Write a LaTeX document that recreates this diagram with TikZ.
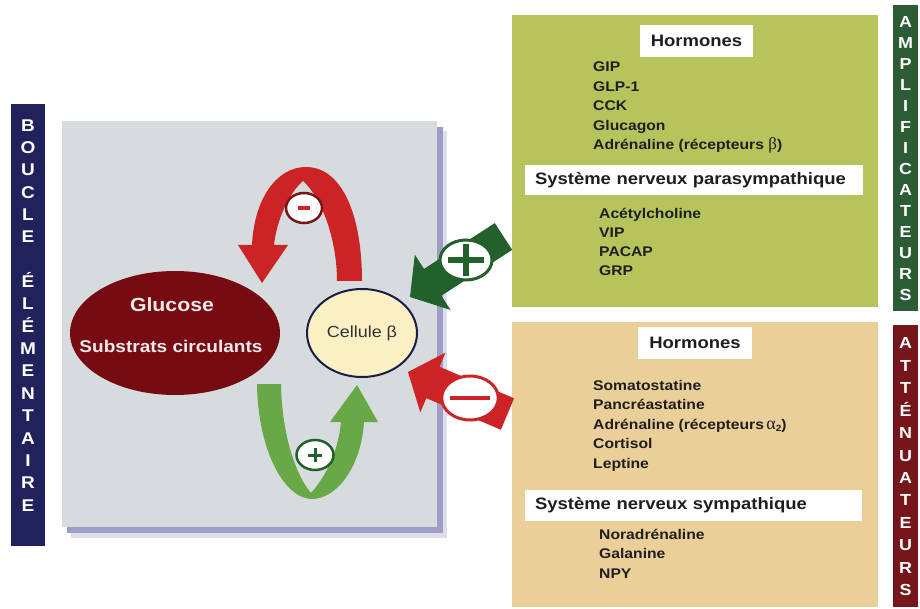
\documentclass[tikz,border=0pt]{standalone}
\usepackage{fontspec}
\setmainfont{Liberation Sans}[FakeStretch=1.12]
\newfontfamily\grk{Liberation Serif}
\usetikzlibrary{shapes.geometric}
\newcommand{\myfs}[1]{\fontsize{#1}{#1}\selectfont}
\newcommand{\grkb}{{\grk\mdseries\myfs{17}β}}
\newcommand{\grka}{{\grk\mdseries\myfs{18}α}\raisebox{-2.5pt}{\myfs{9}2}}
\definecolor{navy}{RGB}{33,33,92}
\definecolor{dgreen}{RGB}{44,92,52}
\definecolor{dred}{RGB}{118,22,26}
\definecolor{glucose}{RGB}{118,12,18}
\definecolor{greybox}{RGB}{214,219,222}
\definecolor{shadowc}{RGB}{140,140,188}
\definecolor{olive}{RGB}{183,196,92}
\definecolor{beige}{RGB}{234,208,152}
\definecolor{cellfill}{RGB}{250,240,196}
\definecolor{cellline}{RGB}{28,28,72}
\definecolor{redarrow}{RGB}{204,36,36}
\definecolor{lgreen}{RGB}{104,168,70}
\definecolor{garrow}{RGB}{34,96,44}
\definecolor{txt}{RGB}{30,30,30}
\begin{document}
\begin{tikzpicture}[x=1pt,y=-1pt,
  barletter/.style={text=white,font=\bfseries\myfs{16},inner sep=0pt,text height=11.5pt,text depth=0pt},
  bigletter/.style={barletter,font=\bfseries\myfs{17},text height=12.2pt},
  item/.style={anchor=base west,font=\bfseries\myfs{14},text=txt,inner sep=0pt},
  hdr/.style={fill=white,font=\bfseries\myfs{16.5},text=txt,inner sep=0pt},
  sign/.style={ellipse,fill=white,inner sep=0pt}]
\useasboundingbox (0,0) rectangle (920,609);
\fill[white] (0,0) rectangle (920,609);
% left bar
\fill[navy] (11,104) rectangle (45,546);
\foreach \l [count=\i from 0] in {B,O,U,C,L,E}
  \node[bigletter] (bl\i) at (28,{125+22.35*\i}) {\l};
\foreach \l [count=\i from 7] in {É,L,É,M,E,N,T,A,I,R,E}
  \node[bigletter] (bl\i) at (28,{125+22.35*\i}) {\l};
% grey box with shadow
\fill[shadowc!30] (71,131) rectangle (447,538);
\fill[shadowc!85] (67,127) rectangle (443,533);
\fill[greybox] (62,121) rectangle (437,527);
% glucose
\node[ellipse,fill=glucose,minimum width=210pt,minimum height=124pt,inner sep=0pt] (glu) at (175,333) {};
\node[text={rgb,255:red,242;green,234;blue,234},font=\bfseries\myfs{19},inner sep=0pt] (glut1) at (172,305) {Glucose};
\node[text={rgb,255:red,242;green,234;blue,234},font=\bfseries\myfs{17},inner sep=0pt] (glut2) at (171,346) {Substrats circulants};
% cellule
\node[ellipse,draw=cellline,line width=2pt,fill=cellfill,minimum width=110pt,minimum height=88pt,inner sep=0pt,
  text={rgb,255:red,50;green,50;blue,50},font=\myfs{16}] (cell) at (362,333) {Cellule β};
% red feedback loop
\fill[redarrow] (362,281) .. controls (362,215) and (342,167) .. (306,167)
  .. controls (276,167) and (254,200) .. (252,245)
  -- (238,245) -- (262,283) -- (288,245) -- (274,245)
  .. controls (277,218) and (290,192) .. (303,181)
  .. controls (322,198) and (337,240) .. (337,281) -- cycle;
\node[sign,draw=dred,line width=2.5pt,minimum width=36pt,minimum height=30pt] (cm) at (304,208)
  {\textcolor{redarrow}{\rule{12pt}{4pt}}};
% green feedback loop
\fill[lgreen] (257,384) -- (281,384)
  .. controls (282,440) and (298,478) .. (311,493)
  .. controls (326,476) and (338,452) .. (341,422)
  -- (330,422) -- (357,385) -- (378,422) -- (364,422)
  .. controls (361,468) and (336,499) .. (312,499)
  .. controls (285,499) and (258,452) .. (257,384) -- cycle;
\node[sign,draw=garrow,line width=2.5pt,minimum width=37pt,minimum height=30pt] (cp) at (315,455) {};
\draw[garrow,line width=3pt] ([xshift=-7pt]cp.center) -- ([xshift=7pt]cp.center);
\draw[garrow,line width=3pt] ([yshift=-7pt]cp.center) -- ([yshift=7pt]cp.center);
% panels
\fill[olive] (512,15) rectangle (878,307);
\fill[beige] (512,322) rectangle (878,607);
\fill[dgreen] (893,5) rectangle (918,311);
\fill[dred] (893,325) rectangle (918,607);
\foreach \l [count=\i from 0] in {A,M,P,L,I,F,I,C,A,T,E,U,R,S}
  \node[barletter] (am\i) at (905.5,{22+21*\i}) {\l};
\foreach \l [count=\i from 0] in {A,T,T,É,N,U,A,T,E,U,R,S}
  \node[barletter] (at\i) at (905.5,{343+22.45*\i}) {\l};
% amplifier panel
\node[hdr,minimum width=113pt,minimum height=32pt] (h1) at (696.5,41) {Hormones};
\foreach \t [count=\i from 0] in {GIP,GLP-1,CCK,Glucagon,{Adrénaline (récepteurs \grkb)}}
  \node[item] (ha\i) at (593,{72+19.5*\i}) {\t};
\node[hdr,minimum height=30pt,text width=318pt,align=left,inner xsep=10pt] (h2) at (694,180) {Système nerveux parasympathique};
\foreach \t [count=\i from 0] in {Acétylcholine,VIP,PACAP,GRP}
  \node[item] (pa\i) at (599,{219+19*\i}) {\t};
% attenuator panel
\node[hdr,minimum width=114pt,minimum height=32pt] (h3) at (695,343) {Hormones};
\foreach \t [count=\i from 0] in {Somatostatine,Pancréastatine,{Adrénaline (récepteurs\,\grka)},Cortisol,Leptine}
  \node[item] (hb\i) at (593,{390+19.5*\i}) {\t};
\node[hdr,minimum height=31pt,text width=317pt,align=left,inner xsep=10pt] (h4) at (693.5,505.5) {Système nerveux sympathique};
\foreach \t [count=\i from 0] in {Noradrénaline,Galanine,NPY}
  \node[item] (sy\i) at (599,{539+19.5*\i}) {\t};
% big green arrow
\fill[garrow] (494.8,223.1) -- (424.0,268.9) -- (414.8,254.6) -- (410,297) -- (450.6,310.0) -- (441.4,295.7) -- (512.2,249.9) -- cycle;
\node[sign,draw=garrow,line width=3pt,minimum width=52pt,minimum height=40pt] (gp) at (466,260) {};
\draw[garrow,line width=6pt] ([xshift=-18pt]gp.center) -- ([xshift=18pt]gp.center);
\draw[garrow,line width=6pt] ([yshift=-16pt]gp.center) -- ([yshift=16pt]gp.center);
% big red arrow
\fill[redarrow] (514.1,398.3) -- (439.5,366.8) -- (445.5,352.6) -- (408,372) -- (420.3,412.4) -- (426.3,398.2) -- (500.9,429.7) -- cycle;
\node[sign,draw=redarrow,line width=3pt,minimum width=54pt,minimum height=44pt] (rm) at (470,398)
  {\textcolor{redarrow}{\rule{40pt}{4pt}}};
\end{tikzpicture}
\end{document}
